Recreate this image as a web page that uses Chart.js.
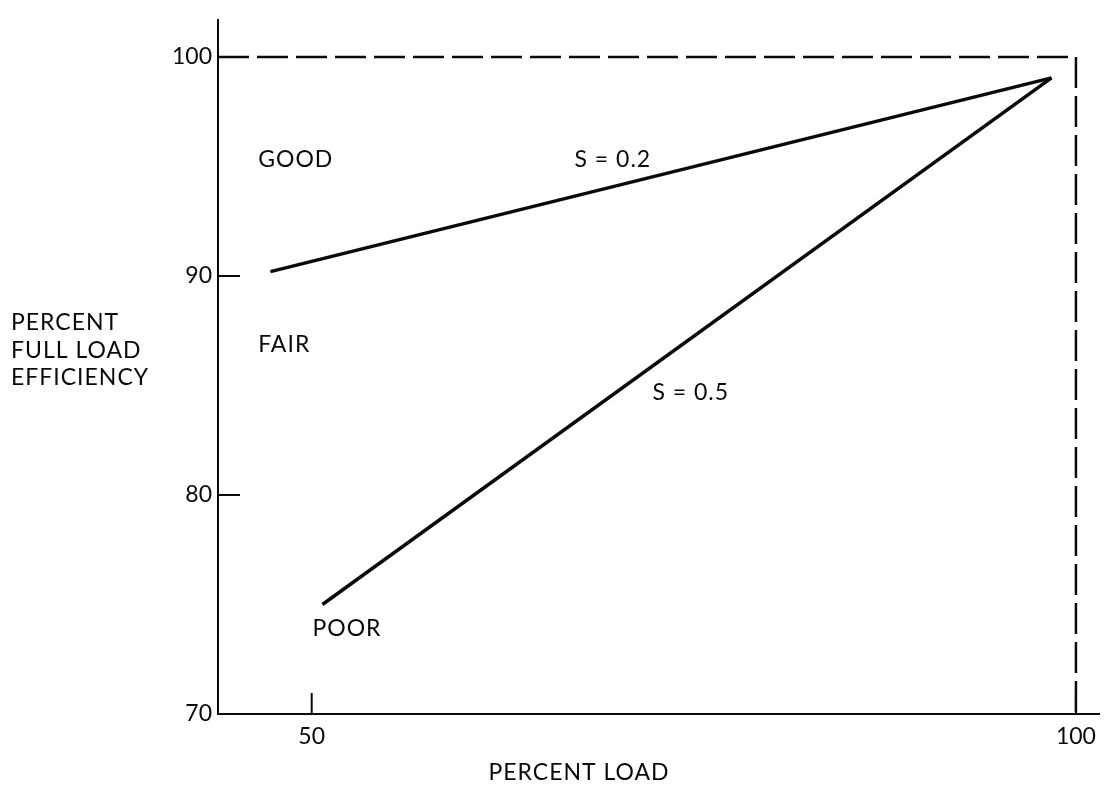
<!DOCTYPE html>
<html>
<head>
<meta charset="utf-8">
<title>Percent full load efficiency</title>
<script src="https://cdn.jsdelivr.net/npm/chart.js@4/dist/chart.umd.min.js"></script>
<style>
  html, body { margin: 0; padding: 0; background: #fff; }
</style>
</head>
<body>
<canvas id="chart" width="1105" height="791"></canvas>
<script>
/* ---- data ---- */
const xTicks = [50, 100];
const yTicks = [70, 80, 90, 100];
const curveNames = ['S = 0.2', 'S = 0.5'];
const curveS02 = [{ x: 47.3, y: 90.2 }, { x: 98.4, y: 99.05 }];
const curveS05 = [{ x: 50.7, y: 75.0 }, { x: 98.4, y: 99.05 }];
const boundary = [{ x: 43.87, y: 100 }, { x: 100, y: 100 }, { x: 100, y: 70 }];
const zoneNames = ['GOOD', 'FAIR', 'POOR'];
const zoneAt = [{ x: 46.5, y: 95.3 }, { x: 46.5, y: 86.85 }, { x: 50.05, y: 73.9 }];
const curveNameAt = [{ x: 69.7, y: 95.3 }, { x: 74.8, y: 84.7 }];
const yTitle = ['PERCENT', 'FULL LOAD', 'EFFICIENCY'];
const xTitle = 'PERCENT LOAD';

const FONT = "Lato, 'DejaVu Sans', sans-serif";
const INK = '#0a0a0a';

/* ---- tick marks, labels, titles ---- */
const extras = {
  id: 'extras',
  afterDraw(chart) {
    const ctx = chart.ctx;
    const xs = chart.scales.x, ys = chart.scales.y;
    ctx.save();
    ctx.strokeStyle = INK;
    ctx.lineWidth = 2;
    // inward ticks
    yTicks.forEach(v => {
      const py = ys.getPixelForValue(v);
      ctx.beginPath(); ctx.moveTo(xs.left, py); ctx.lineTo(xs.left + 22, py); ctx.stroke();
    });
    xTicks.forEach(v => {
      const px = xs.getPixelForValue(v);
      ctx.beginPath(); ctx.moveTo(px, ys.bottom); ctx.lineTo(px, ys.bottom - 21); ctx.stroke();
    });
    ctx.fillStyle = INK;
    ctx.font = '23px ' + FONT;
    ctx.letterSpacing = '1px';
    ctx.textBaseline = 'middle';
    // region names
    ctx.textAlign = 'left';
    zoneNames.forEach((t, i) => {
      ctx.fillText(t, xs.getPixelForValue(zoneAt[i].x), ys.getPixelForValue(zoneAt[i].y));
    });
    // curve names
    ctx.textAlign = 'center';
    curveNames.forEach((t, i) => {
      ctx.fillText(t, xs.getPixelForValue(curveNameAt[i].x), ys.getPixelForValue(curveNameAt[i].y));
    });
    // axis titles
    ctx.textAlign = 'left';
    yTitle.forEach((t, i) => ctx.fillText(t, 11, 323 + i * 27.5));
    ctx.textAlign = 'center';
    ctx.fillText(xTitle, 579, 773);
    ctx.restore();
  }
};

new Chart(document.getElementById('chart'), {
  type: 'scatter',
  data: {
    datasets: [
      { label: curveNames[0], data: curveS02, showLine: true, borderColor: INK, borderWidth: 3.5, pointRadius: 0, tension: 0 },
      { label: curveNames[1], data: curveS05, showLine: true, borderColor: INK, borderWidth: 3.5, pointRadius: 0, tension: 0 },
      { label: 'limit', data: boundary, showLine: true, borderColor: INK, borderWidth: 2.5, borderDash: [31, 8], pointRadius: 0, tension: 0 }
    ]
  },
  options: {
    responsive: false,
    animation: false,
    layout: { padding: { top: 10, right: 2, left: 0, bottom: 0 } },
    plugins: { legend: { display: false }, tooltip: { enabled: false } },
    scales: {
      x: {
        type: 'linear', min: 43.87, max: 101.56,
        afterBuildTicks: s => { s.ticks = xTicks.map(v => ({ value: v })); },
        afterFit: s => { s.height = 77; },
        grid: { display: false, drawTicks: false },
        border: { display: true, color: INK, width: 2 },
        ticks: { color: INK, padding: 9, font: { family: FONT, size: 23 }, maxRotation: 0, autoSkip: false }
      },
      y: {
        type: 'linear', min: 70, max: 101.7,
        afterBuildTicks: s => { s.ticks = yTicks.map(v => ({ value: v })); },
        afterFit: s => { s.width = 218; },
        grid: { display: false, drawTicks: false },
        border: { display: true, color: INK, width: 2 },
        ticks: { color: INK, padding: 6, font: { family: FONT, size: 23 }, autoSkip: false }
      }
    }
  },
  plugins: [extras]
});
</script>
</body>
</html>
